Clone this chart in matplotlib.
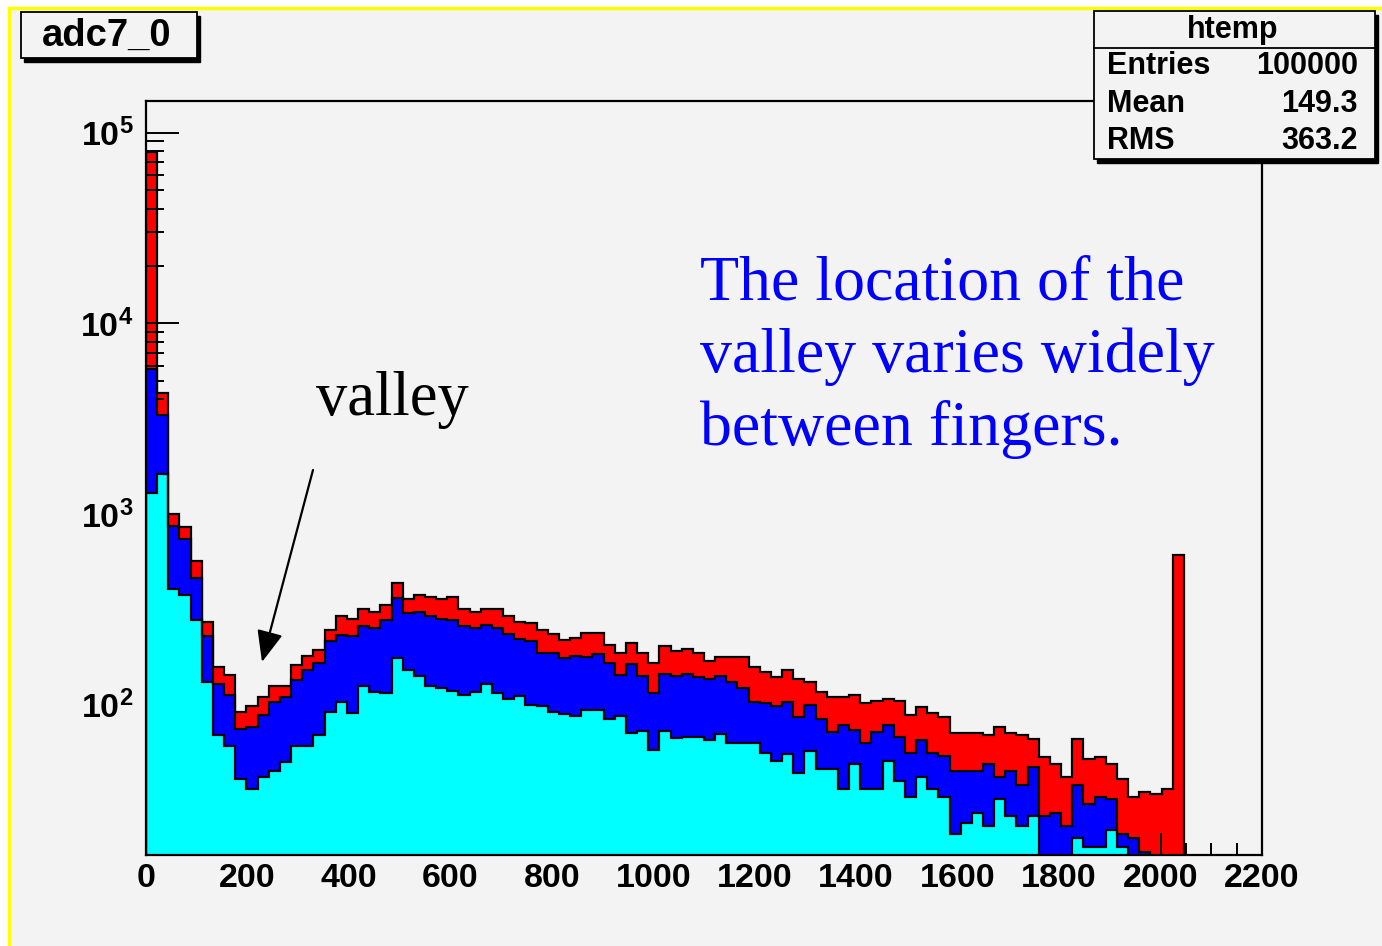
import numpy as np
import matplotlib
matplotlib.use("Agg")
import matplotlib.pyplot as plt
from matplotlib.patches import Rectangle
from matplotlib.ticker import FixedLocator, LogLocator, MultipleLocator, NullFormatter

# ---------------- data (100 bins, 0..2200, width 22) ----------------
x_min, x_max, n_bins = 0, 2200, 100

red_counts = [79600, 4300, 1000, 851, 569, 272, 157, 143, 92, 99,
              110, 125, 125, 161, 180, 193, 248, 292, 280, 316,
              307, 333, 433, 357, 376, 368, 357, 366, 316, 307,
              316, 316, 292, 272, 267, 246, 235, 218, 225, 237,
              237, 205, 186, 210, 186, 166, 203, 192, 195, 186,
              170, 177, 177, 177, 157, 149, 139, 153, 136, 132,
              117, 110, 110, 112, 102, 105, 107, 105, 88, 97,
              90, 86, 71, 71, 71, 69, 76, 71, 69, 66,
              53, 49, 42, 66, 52, 53, 49, 41, 33, 35,
              34, 36, 609]

blue_counts = [5745, 3306, 865, 736, 464, 229, 129, 112, 75, 76,
               88, 103, 110, 135, 152, 165, 215, 232, 229, 258,
               254, 278, 361, 303, 307, 292, 280, 278, 258, 254,
               262, 254, 235, 220, 216, 186, 186, 175, 180, 177,
               184, 166, 143, 163, 141, 115, 145, 141, 145, 139,
               137, 141, 132, 123, 104, 102, 98, 104, 86, 100,
               84, 72, 78, 74, 63, 72, 78, 68, 56, 65,
               56, 54, 45, 45, 45, 49, 42, 45, 38, 47,
               26, 27, 23, 38, 30, 33, 32, 21, 20, 17,
               0, 0, 0]

cyan_counts = [1284, 1622, 407, 376, 278, 132, 69, 61, 41, 36,
               42, 45, 50, 61, 61, 69, 92, 104, 90, 125,
               117, 115, 175, 153, 141, 125, 122, 118, 112, 117,
               128, 115, 107, 111, 100, 98, 92, 89, 87, 94,
               94, 84, 87, 71, 73, 58, 73, 67, 68, 68,
               65, 70, 63, 63, 63, 56, 51, 55, 44, 57,
               46, 46, 36, 49, 36, 36, 51, 40, 33, 42,
               36, 33, 21, 24, 27, 23, 32, 26, 23, 26,
               0, 0, 0, 20, 18, 18, 22, 18, 0, 0,
               0, 0, 0]

x_ticks = [0, 200, 400, 600, 800, 1000, 1200, 1400, 1600, 1800, 2000, 2200]
y_ticks = [1e2, 1e3, 1e4, 1e5]
y_tick_labels = [r"$\mathbf{10^{2}}$", r"$\mathbf{10^{3}}$", r"$\mathbf{10^{4}}$", r"$\mathbf{10^{5}}$"]

title_text = "adc7_0"
stats_title = "htemp"
stats_names = ["Entries", "Mean", "RMS"]
stats_values = ["100000", "149.3", "363.2"]
annot_text = "valley"
blue_text = ["The location of the", "valley varies widely", "between fingers."]

# ---------------- style ----------------
plt.rcParams["mathtext.fontset"] = "custom"
plt.rcParams["mathtext.rm"] = "Liberation Sans"
plt.rcParams["mathtext.bf"] = "Liberation Sans:bold"
plt.rcParams["font.family"] = ["Liberation Sans", "DejaVu Sans"]

W, H = 1382, 946
BG = "#f3f3f3"
fig = plt.figure(figsize=(W / 100, H / 100), dpi=100, facecolor="white")


def fx(px):
    return px / W


def fy(py):
    return 1 - py / H


# canvas with yellow border
fig.patches.append(Rectangle((fx(9), -0.05), 1.1, fy(8) + 0.05, transform=fig.transFigure,
                             facecolor=BG, edgecolor="#ffff00", linewidth=2.5, zorder=-10))

ax = fig.add_axes([fx(146), fy(855), fx(1262) - fx(146), fy(101) - fy(855)])
ax.set_facecolor(BG)
ax.set_zorder(1)

edges = np.linspace(x_min, x_max, n_bins + 1)


def pad(v):
    a = np.zeros(n_bins)
    a[:len(v)] = v
    return a


ax.stairs(pad(red_counts), edges, baseline=1, fill=True, facecolor="#ff0000",
          edgecolor="none", zorder=1)
ax.stairs(pad(red_counts), edges, baseline=1, fill=False, color="black",
          linewidth=1.6, zorder=1.05)
for vals, col in [(blue_counts, "#0000ff"), (cyan_counts, "#00ffff")]:
    ax.stairs(pad(vals), edges, baseline=1, fill=True, facecolor=col,
              edgecolor="none", zorder=2)
    ax.stairs(pad(vals), edges, baseline=1, fill=False, color="black",
              linewidth=1.6, zorder=2.05)

ax.set_yscale("log")
ax.set_xlim(x_min, x_max)
ax.set_ylim(16.3, 1.466e5)

ax.xaxis.set_major_locator(FixedLocator(x_ticks))
ax.xaxis.set_minor_locator(MultipleLocator(50))
ax.yaxis.set_major_locator(FixedLocator(y_ticks))
ax.set_yticklabels(y_tick_labels)
ax.yaxis.set_minor_locator(LogLocator(base=10, subs=np.arange(2, 10)))
ax.yaxis.set_minor_formatter(NullFormatter())
ax.set_xticklabels([str(t) for t in x_ticks], fontweight="bold")

ax.tick_params(axis="x", which="major", direction="in", length=16, width=1.4,
               labelsize=24.5, pad=6)
ax.tick_params(axis="x", which="minor", direction="in", length=8.5, width=1.4)
ax.tick_params(axis="y", which="major", direction="in", length=24, width=1.4,
               labelsize=24.5, pad=9)
ax.tick_params(axis="y", which="minor", direction="in", length=13, width=1.4)
ax.xaxis.set_zorder(1.5)
ax.yaxis.set_zorder(1.5)
for s in ax.spines.values():
    s.set_linewidth(1.6)
    s.set_color("black")
    s.set_zorder(3)

# title box with shadow
fig.patches.append(Rectangle((fx(24), fy(62)), fx(197) - fx(21), fy(12) - fy(58),
                             transform=fig.transFigure, facecolor="black",
                             edgecolor="black", zorder=5))
fig.patches.append(Rectangle((fx(21), fy(58)), fx(197) - fx(21), fy(12) - fy(58),
                             transform=fig.transFigure, facecolor=BG,
                             edgecolor="black", linewidth=1.3, zorder=6))
fig.text(fx(107), fy(36), title_text, ha="center", va="center", fontsize=27.5,
         fontweight="bold", zorder=7)

# stats box with shadow
fig.patches.append(Rectangle((fx(1097), fy(163)), fx(1375) - fx(1094), fy(11) - fy(159),
                             transform=fig.transFigure, facecolor="black",
                             edgecolor="black", zorder=5))
fig.patches.append(Rectangle((fx(1094), fy(159)), fx(1375) - fx(1094), fy(11) - fy(159),
                             transform=fig.transFigure, facecolor=BG,
                             edgecolor="black", linewidth=1.3, zorder=6))
fig.add_artist(plt.Line2D([fx(1094), fx(1375)], [fy(48), fy(48)],
                          transform=fig.transFigure, color="black", lw=1.3, zorder=7))
fig.text(fx(1233), fy(30), stats_title, ha="center", va="center", fontsize=22,
         fontweight="bold", zorder=7)
for i, (n, v) in enumerate(zip(stats_names, stats_values)):
    yy = fy(66 + 37.5 * i)
    fig.text(fx(1107), yy, n, ha="left", va="center", fontsize=22,
             fontweight="bold", zorder=7)
    fig.text(fx(1358), yy, v, ha="right", va="center", fontsize=22,
             fontweight="bold", zorder=7)

# annotations
fig.text(fx(316), fy(415), annot_text, ha="left", va="baseline", fontsize=45,
         family="Liberation Serif", color="black", zorder=8)
fig.add_artist(matplotlib.patches.FancyArrowPatch(
    (fx(313), fy(470)), (fx(262), fy(662)), transform=fig.transFigure,
    arrowstyle="-|>,head_length=12,head_width=5", mutation_scale=1.6,
    color="black", lw=1.6, shrinkA=0, shrinkB=0, zorder=8))
for i, line in enumerate(blue_text):
    fig.text(fx(700), fy(299 + 73 * i), line, ha="left", va="baseline",
             fontsize=46, family="Liberation Serif", color="#0000ff", zorder=8)

fig.savefig("out.png", dpi=100, facecolor="white")
